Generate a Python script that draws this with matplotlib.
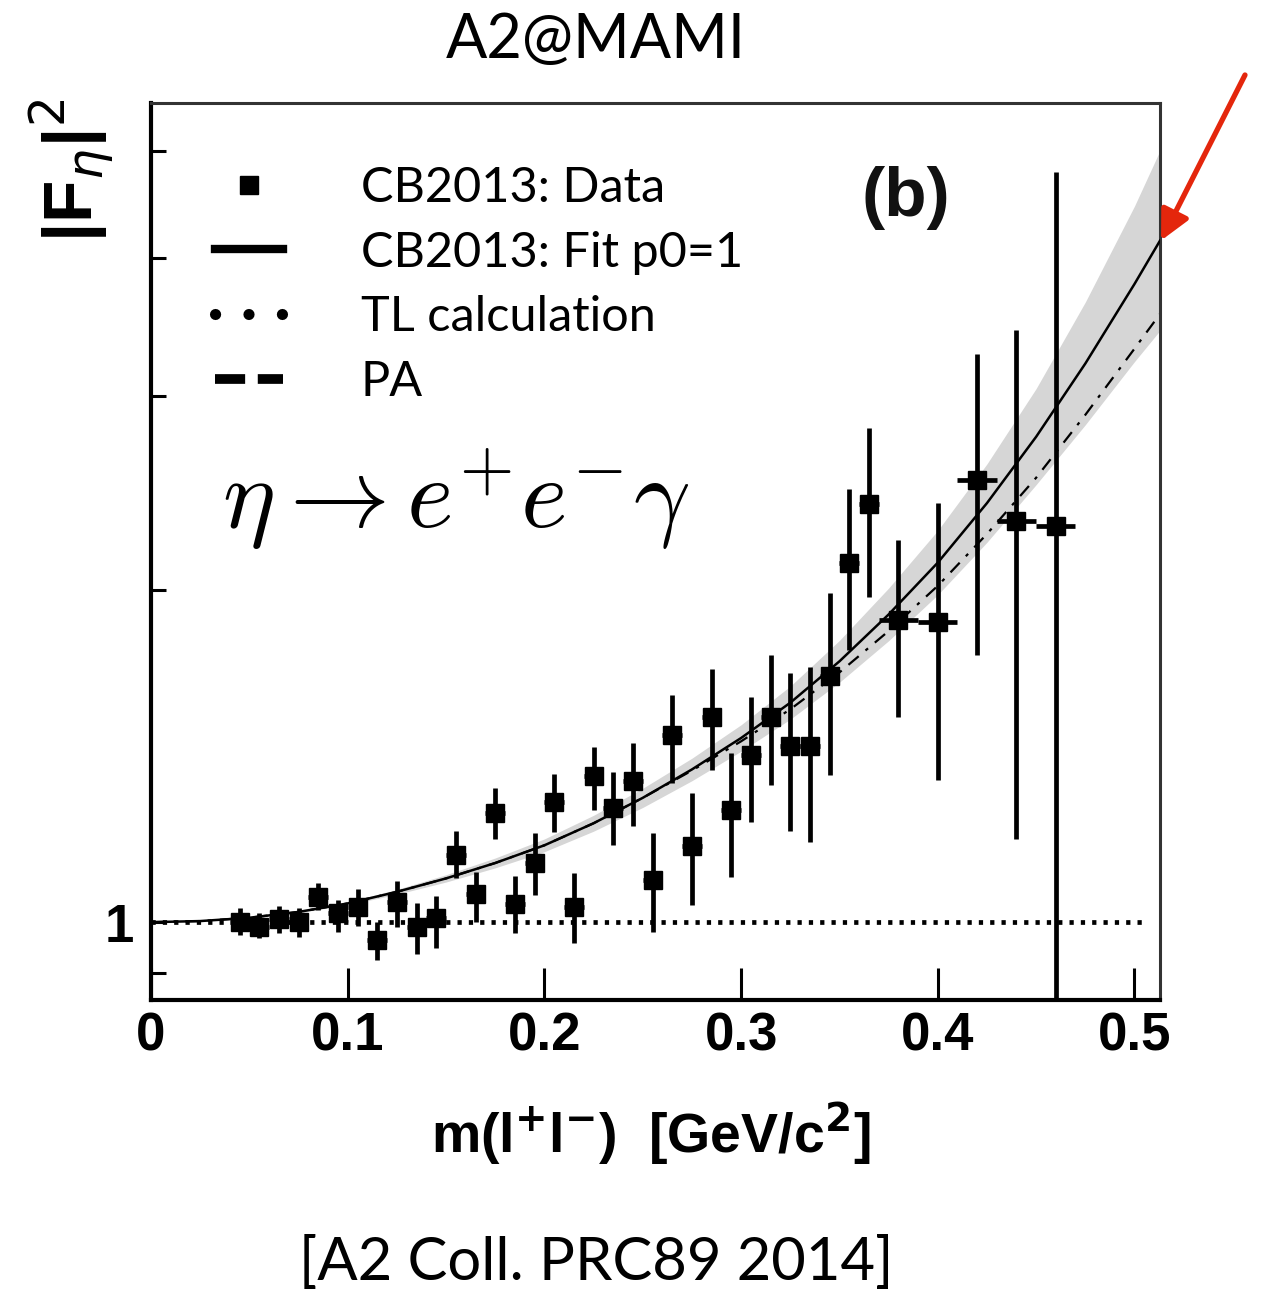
import numpy as np
import matplotlib
matplotlib.use("Agg")
import matplotlib.pyplot as plt
from matplotlib.lines import Line2D
from matplotlib.ticker import FixedLocator, FixedFormatter, NullFormatter

# data points: eta -> e+ e- gamma, |F|^2 vs m(l+l-)
x_data = [0.045, 0.055, 0.065, 0.075, 0.085, 0.095, 0.105, 0.115, 0.125, 0.135,
          0.145, 0.155, 0.165, 0.175, 0.185, 0.195, 0.205, 0.215, 0.225, 0.235,
          0.245, 0.255, 0.265, 0.275, 0.285, 0.295, 0.305, 0.315, 0.325, 0.335,
          0.345, 0.355, 0.365, 0.38, 0.40, 0.42, 0.44, 0.46]
y_data = [1.000, 0.990, 1.006, 1.000, 1.054, 1.019, 1.032, 0.963, 1.043, 0.990,
          1.008, 1.150, 1.060, 1.256, 1.038, 1.131, 1.285, 1.032, 1.356, 1.269,
          1.342, 1.092, 1.478, 1.172, 1.534, 1.264, 1.417, 1.534, 1.444, 1.444,
          1.671, 2.116, 2.394, 1.879, 1.871, 2.517, 2.309, 2.286]
y_low = [0.973, 0.967, 0.977, 0.969, 1.025, 0.979, 0.992, 0.924, 0.990, 0.935,
         0.947, 1.096, 1.000, 1.189, 0.977, 1.058, 1.207, 0.957, 1.264, 1.174,
         1.222, 0.979, 1.337, 1.036, 1.373, 1.099, 1.232, 1.331, 1.209, 1.182,
         1.359, 1.764, 1.971, 1.534, 1.345, 1.746, 1.189, 0.50]
y_high = [1.030, 1.019, 1.034, 1.030, 1.085, 1.047, 1.071, 1.000, 1.089, 1.041,
          1.056, 1.209, 1.110, 1.323, 1.101, 1.204, 1.362, 1.108, 1.441, 1.368,
          1.453, 1.204, 1.606, 1.309, 1.696, 1.423, 1.600, 1.746, 1.682, 1.703,
          1.987, 2.470, 2.805, 2.220, 2.399, 3.273, 3.442, 4.786]
x_err = [0.005] * 33 + [0.01] * 5

# fit p0=1 with its error band, PA prediction, TL calculation
curve_x = [0.0, 0.025, 0.05, 0.075, 0.1, 0.125, 0.15, 0.175, 0.2, 0.225, 0.25,
           0.275, 0.3, 0.325, 0.35, 0.375, 0.4, 0.425, 0.45, 0.475, 0.5, 0.513]
fit_y = [1.000, 1.0023, 1.0093, 1.0216, 1.0399, 1.0654, 1.0957, 1.1315, 1.1741, 1.2294,
         1.2964, 1.3756, 1.4689, 1.5812, 1.7239, 1.9011, 2.1184, 2.3988, 2.7550, 3.2100,
         3.7900, 4.1500]
band_hi = [1.000, 1.0023, 1.0100, 1.0233, 1.0430, 1.0708, 1.1041, 1.1434, 1.1898, 1.2500,
           1.3226, 1.4082, 1.5101, 1.6368, 1.8009, 2.0087, 2.2656, 2.6033, 3.0470, 3.6500,
           4.4600, 5.0100]
band_lo = [1.000, 1.0023, 1.0085, 1.0200, 1.0368, 1.0600, 1.0874, 1.1201, 1.1585, 1.2092,
           1.2706, 1.3436, 1.4289, 1.5276, 1.6502, 1.7997, 1.9811, 2.2104, 2.4930, 2.8250,
           3.2230, 3.4400]
pa_y = [1.000, 1.0023, 1.0093, 1.0216, 1.0399, 1.0654, 1.0957, 1.1315, 1.1741, 1.2294,
        1.2964, 1.3724, 1.4588, 1.5596, 1.6845, 1.8365, 2.0184, 2.2491, 2.5293, 2.8840,
        3.3113, 3.5605]
tl_x = [0.0, 0.505]
tl_y = [1.0, 1.0]

x_ticks = [0, 0.1, 0.2, 0.3, 0.4, 0.5]
x_ticklabels = ["0", "0.1", "0.2", "0.3", "0.4", "0.5"]

arial = ["Liberation Sans", "DejaVu Sans"]
gill = ["Lato", "DejaVu Sans"]

fig = plt.figure(figsize=(12.63, 12.91), dpi=100)
ax = fig.add_axes([0.1196, 0.2254, 0.7989, 0.6948])

yerr = [np.array(y_data) - np.array(y_low), np.array(y_high) - np.array(y_data)]

ax.fill_between(curve_x, band_lo, band_hi, color="#d6d6d6", lw=0, zorder=1)
ax.plot(tl_x, tl_y, color="black", lw=3.4, ls=(0, (0.9, 1.5)), zorder=2)
ax.plot(curve_x, pa_y, color="black", lw=1.6, ls=(0, (6, 4, 1.5, 4)), zorder=2)
ax.plot(curve_x, fit_y, color="black", lw=1.8, zorder=3)
ax.errorbar(x_data, y_data, yerr=yerr, xerr=x_err, fmt="s", color="black",
            ms=13, elinewidth=3.4, capsize=0, zorder=4)

ax.set_yscale("log")
ax.set_xlim(0, 0.513)
ax.set_ylim(0.85, 5.53)

ax.yaxis.set_major_locator(FixedLocator([1]))
ax.yaxis.set_major_formatter(FixedFormatter(["1"]))
ax.yaxis.set_minor_locator(FixedLocator([0.9, 2, 3, 4, 5]))
ax.yaxis.set_minor_formatter(NullFormatter())
ax.set_xticks(x_ticks)
ax.set_xticklabels(x_ticklabels)

ax.tick_params(axis="x", which="major", direction="in", length=23, width=2.2, pad=8)
ax.tick_params(axis="y", which="both", direction="in", length=11, width=2.2, pad=12)
for lab in ax.get_xticklabels() + ax.get_yticklabels():
    lab.set_family(arial)
    lab.set_fontweight("bold")
    lab.set_fontsize(38)

for side in ["left", "bottom"]:
    ax.spines[side].set_linewidth(3)
for side in ["top", "right"]:
    ax.spines[side].set_linewidth(2.2)
    ax.spines[side].set_color("#333333")

handles = [
    Line2D([], [], color="black", marker="s", ls="none", ms=13),
    Line2D([], [], color="black", lw=6),
    Line2D([], [], color="black", lw=8, ls=(0, (0.01, 3)), dash_capstyle="round"),
    Line2D([], [], color="black", lw=7, ls=(0, (3.1, 1.3))),
]
labels = ["CB2013: Data", "CB2013: Fit p0=1", "TL calculation", "PA"]
ax.legend(handles, labels, loc="upper left", bbox_to_anchor=(0.02, 0.979),
          frameon=False, prop={"family": gill, "size": 35},
          handlelength=1.4, handletextpad=1.6, labelspacing=0.43)

ax.text(0.748, 0.894, "(b)", transform=ax.transAxes, fontsize=50,
        fontweight="bold", family=arial, ha="center", va="center", color="#111111")
ax.text(0.07, 0.558, r"$\eta \rightarrow e^{+}e^{-}\gamma$", transform=ax.transAxes,
        fontsize=72, math_fontfamily="cm", ha="left", va="center")

ax.annotate("", xy=(0.5135, 4.15), xycoords="data",
            xytext=(1245 / 1263, 1 - 75 / 1291), textcoords="figure fraction",
            arrowprops=dict(arrowstyle="-|>", color="#e4260c", lw=3.8,
                            mutation_scale=45, shrinkA=0, shrinkB=0),
            annotation_clip=False)

fig.text(0.472, 0.969, "A2@MAMI", family=gill, fontsize=44, ha="center", va="center")
fig.text(0.515, 0.121, r"m(l$^{\mathbf{+}}$l$^{\mathbf{-}}$)  [GeV/c$^{\mathbf{2}}$]",
         family=arial, fontweight="bold", fontsize=40, ha="center", va="center",
         math_fontfamily="dejavusans")
fig.text(0.057, 0.868, r"|F$_{\eta}$|$^{2}$", family=arial, fontweight="bold",
         fontsize=50, rotation=90, ha="center", va="center", math_fontfamily="dejavusans")
fig.text(0.472, 0.022, "[A2 Coll. PRC89 2014]", family=gill, fontsize=43,
         ha="center", va="center")

fig.savefig("out.png", dpi=100)
